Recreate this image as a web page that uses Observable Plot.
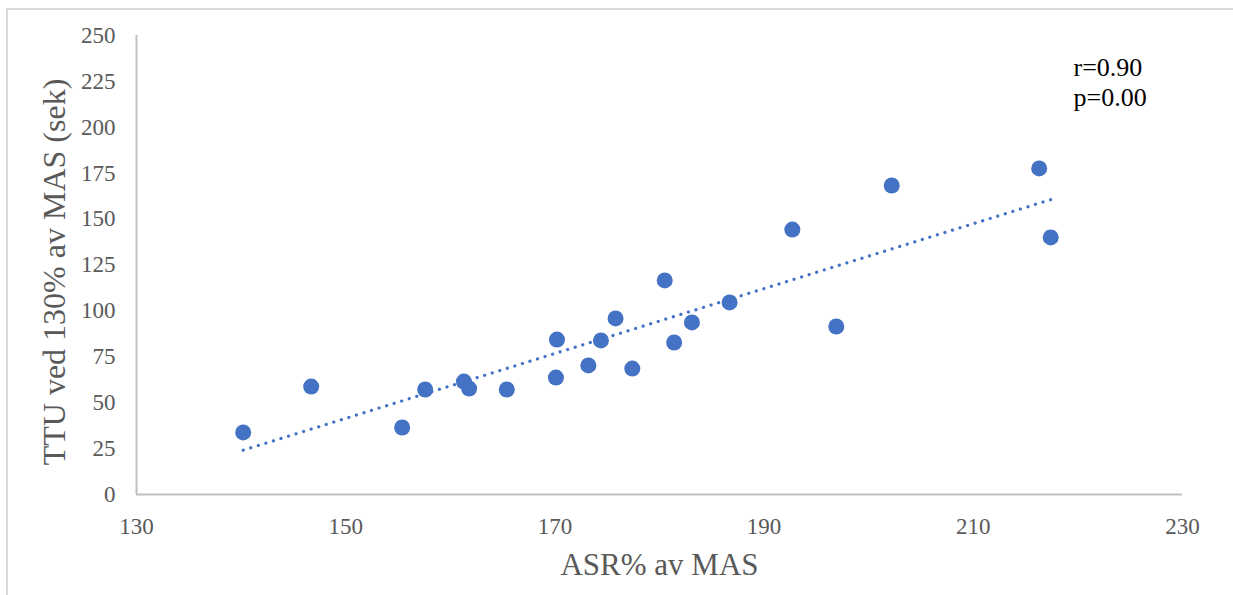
<!DOCTYPE html>
<html>
<head>
<meta charset="utf-8">
<script src="https://cdn.jsdelivr.net/npm/d3@7"></script>
<script src="https://cdn.jsdelivr.net/npm/@observablehq/plot@0.6"></script>
<style>
  html, body { margin: 0; padding: 0; background: #fff; }
  #wrap { position: relative; width: 1233px; height: 595px; overflow: hidden; }
  #border { position: absolute; left: 6px; top: 8px; right: 0; bottom: 0;
            border-top: 2px solid #d9d9d9; border-left: 2px solid #d9d9d9; pointer-events: none; }
  #chart { position: absolute; left: 0; top: 0; }
  #chart svg text { font-family: 'Liberation Serif', 'Times New Roman', serif; }
</style>
</head>
<body>
<div id="wrap"><div id="chart"></div><div id="border"></div></div>
<script>
const asr = [140.2, 146.7, 155.4, 157.6, 161.3, 161.8, 165.4, 170.2, 170.1, 173.2, 174.4, 175.8, 177.4, 180.5, 181.4, 183.1, 186.7, 192.7, 196.9, 202.2, 216.3, 217.4];
const ttu = [33.8, 58.8, 36.5, 57.2, 61.5, 57.7, 57.2, 84.4, 63.7, 70.3, 83.9, 95.9, 68.6, 116.6, 82.8, 93.7, 104.6, 144.3, 91.5, 168.3, 177.6, 140.0];
const xTicks = [130, 150, 170, 190, 210, 230];
const yTicks = [0, 25, 50, 75, 100, 125, 150, 175, 200, 225, 250];
const xTitle = "ASR% av MAS";
const yTitle = "TTU ved 130% av MAS (sek)";
const note = "r=0.90\np=0.00";

const data = asr.map((a, i) => ({asr: a, ttu: ttu[i]}));
const font = "'Liberation Serif', 'Times New Roman', serif";
const grey = "#595959";
const blue = "#4472C4";

const chart = Plot.plot({
  width: 1233,
  height: 595,
  marginLeft: 136,
  marginRight: 51,
  marginTop: 35,
  marginBottom: 101,
  style: {fontFamily: font, background: "transparent"},
  x: {domain: [130, 230]},
  y: {domain: [0, 250]},
  marks: [
    Plot.ruleY([0], {stroke: "#bfbfbf", strokeWidth: 2}),
    Plot.ruleX([130], {stroke: "#bfbfbf", strokeWidth: 2}),
    Plot.axisX({ticks: xTicks, tickSize: 0, tickPadding: 23, fontSize: 23, fontFamily: font, fill: grey, label: null, tickFormat: d => String(d)}),
    Plot.axisY({ticks: yTicks, tickSize: 0, tickPadding: 21, fontSize: 23, fontFamily: font, fill: grey, label: null, tickFormat: d => String(d)}),
    Plot.text([xTitle], {frameAnchor: "bottom", dy: 71, fontSize: 31, fontFamily: font, fill: grey, lineAnchor: "middle"}),
    Plot.text([yTitle], {frameAnchor: "left", rotate: -90, textAnchor: "middle", dx: -82, dy: 7, fontSize: 32, fontFamily: font, fill: grey, lineAnchor: "middle"}),
    Plot.linearRegressionY(data, {x: "asr", y: "ttu", ci: 0, stroke: blue, strokeWidth: 3.2, strokeDasharray: "0.1,7.8", strokeLinecap: "round"}),
    Plot.dot(data, {x: "asr", y: "ttu", r: 8, fill: blue, stroke: "none"}),
    Plot.text([note], {frameAnchor: "top-right", textAnchor: "start", dx: -109, dy: 19, fontSize: 26, fontFamily: font, fill: "#000", lineAnchor: "top", lineHeight: 1.15})
  ]
});
document.getElementById("chart").appendChild(chart);
</script>
</body>
</html>
